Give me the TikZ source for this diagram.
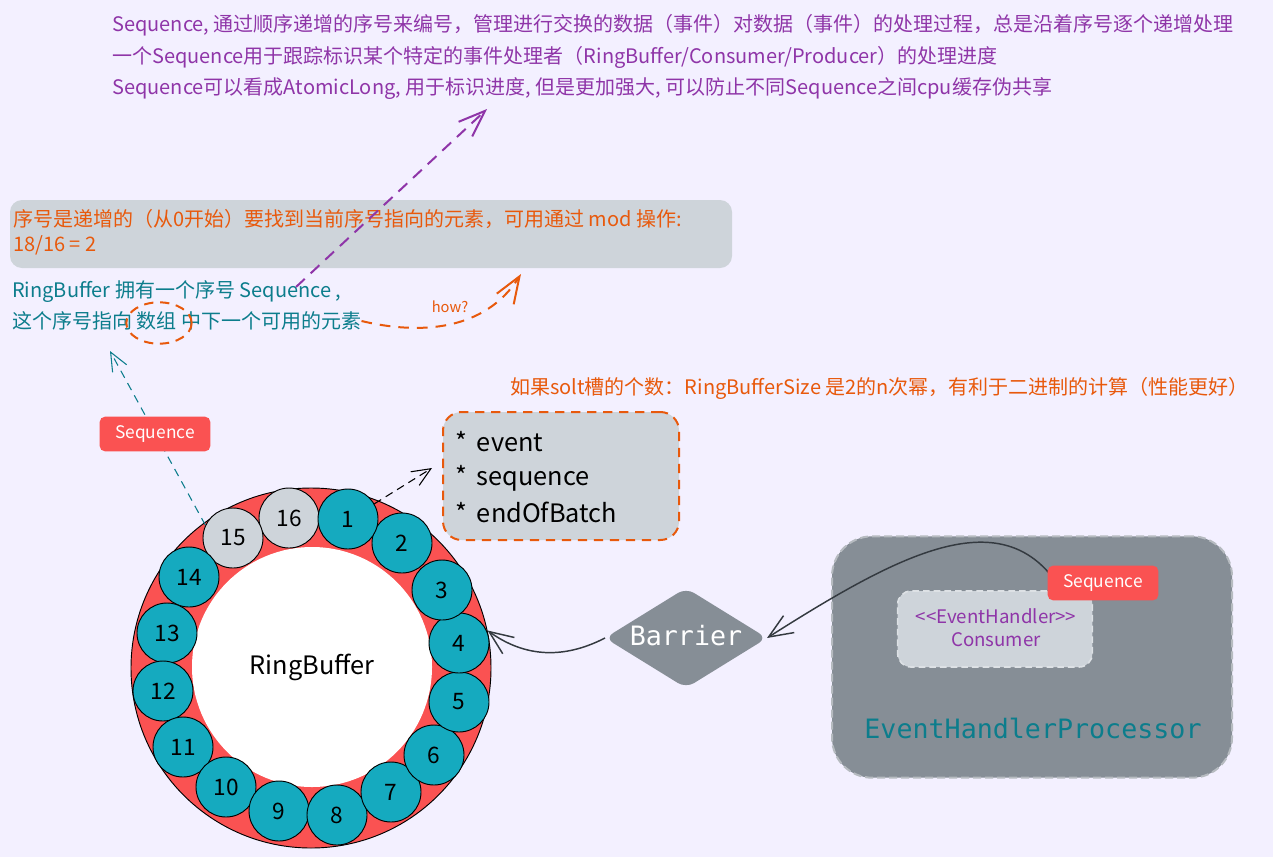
\documentclass[tikz,border=0pt]{standalone}
\usepackage{fontspec}
\setmainfont{Noto Sans CJK SC}[Ligatures=TeXOff]
\newfontfamily\monof{DejaVu Sans Mono}
\usetikzlibrary{arrows.meta,shapes.geometric}
\definecolor{bgc}{HTML}{F3F0FF}
\definecolor{vio}{HTML}{8F35A8}
\definecolor{org}{HTML}{E8590C}
\definecolor{tealc}{HTML}{0C7D8C}
\definecolor{lgray}{HTML}{CED4DA}
\definecolor{dgray}{HTML}{868E96}
\definecolor{sred}{HTML}{FA5252}
\definecolor{ccyan}{HTML}{15AABF}
\definecolor{ink}{HTML}{343A40}
\newcommand\myfs[1]{\fontsize{#1}{#1}\selectfont}
\begin{document}
\begin{tikzpicture}[x=0.75pt,y=-0.75pt,
  txt/.style={anchor=west,inner sep=0pt},
  slot/.style={circle,draw=black,line width=0.7pt,fill=ccyan,minimum size=45pt,inner sep=0pt,font=\myfs{17}},
  slotg/.style={slot,fill=lgray},
  seqlabel/.style={fill=sred,rounded corners=4pt,text=white,font=\myfs{13},minimum width=83pt,minimum height=26pt,inner sep=0pt},
  bigbarb/.style={-{Straight Barb[length=20pt,width=15pt]}},
  smallbarb/.style={-{Straight Barb[length=14pt,width=12pt]}},
  inkbarb/.style={-{Straight Barb[length=18pt,width=15pt]}}]
\useasboundingbox (0,0) rectangle (1273,857);
\fill[bgc] (0,0) rectangle (1273,857);

% top text
\node[txt,text=vio,font=\myfs{15}] (t1) at (112,25) {Sequence, 通过顺序递增的序号来编号，管理进行交换的数据（事件）对数据（事件）的处理过程，总是沿着序号逐个递增处理};
\node[txt,text=vio,font=\myfs{15}] (t2) at (112,57) {一个Sequence用于跟踪标识某个特定的事件处理者（RingBuffer/Consumer/Producer）的处理进度};
\node[txt,text=vio,font=\myfs{15}] (t3) at (112,89) {Sequence可以看成AtomicLong, 用于标识进度, 但是更加强大, 可以防止不同Sequence之间cpu缓存伪共享};

% gray explanation box
\node[fill=lgray,rounded corners=9pt,minimum width=541.5pt,minimum height=51pt,inner sep=0pt] (gbox) at (371,234) {};
\node[txt,text=org,font=\myfs{15}] (g1) at (13,219) {序号是递增的（从0开始）要找到当前序号指向的元素，可用通过 mod 操作:};
\node[txt,text=org,font=\myfs{15}] (g2) at (13,245) {18/16 = 2};

% ring buffer text
\node[txt,text=tealc,font=\myfs{15}] (r1) at (12,292) {RingBuffer 拥有一个序号 Sequence ,};
\node[txt,text=tealc,font=\myfs{15}] (r2) at (12,321) {这个序号指向 数组 中下一个可用的元素};
\node[ellipse,draw=org,line width=1.5pt,dash pattern=on 7pt off 5pt,minimum width=49pt,minimum height=31pt] (arr) at (159,323) {};

% purple arrow
\coordinate (ps) at (296,287);
\coordinate (pt) at (487,109);
\draw[vio,line width=1.5pt,dash pattern=on 9pt off 6pt,bigbarb] (ps) -- (pt);

% orange how arrow
\coordinate (ht) at (521,274);
\draw[org,line width=1.5pt,dash pattern=on 8pt off 6pt,bigbarb] (r2.east) .. controls (420,335) and (485,331) .. (ht);
\node[text=org,font=\myfs{11}] (how) at (450,307) {how?};

% top right note
\node[txt,text=org,font=\myfs{15}] (n1) at (510,388) {如果solt槽的个数：RingBufferSize 是2的n次幂，有利于二进制的计算（性能更好）};

% ring
\node[circle,draw=black,line width=0.7pt,fill=sred,minimum size=270pt,inner sep=0pt] (ring) at (311,668) {};
\node[circle,fill=white,minimum size=180pt,inner sep=0pt,font=\myfs{19}] (inner) at (312,667) {RingBuffer};
\node[slotg] (c16) at (289,518) {16};
\node[slotg] (c15) at (233,538) {15};
\node[slot] (c14) at (189,577) {14};
\node[slot] (c13) at (167,633) {13};
\node[slot] (c12) at (163,691) {12};
\node[slot] (c11) at (183,747) {11};
\node[slot] (c10) at (226,787) {10};
\node[slot] (c9) at (279,811) {9};
\node[slot] (c8) at (337,815) {8};
\node[slot] (c7) at (391,792) {7};
\node[slot] (c6) at (434,755) {6};
\node[slot] (c5) at (459,702) {5};
\node[slot] (c4) at (459,643) {4};
\node[slot] (c3) at (442,590) {3};
\node[slot] (c2) at (402,543) {2};
\node[slot] (c1) at (348,519) {1};

% teal sequence arrow
\coordinate (st) at (110,351);
\draw[tealc,line width=0.8pt,dash pattern=on 6pt off 4.5pt,smallbarb] (c15.155) -- (st);
\node[seqlabel] (sq1) at (155,434) {Sequence};

% event box
\node[fill=lgray,draw=org,line width=1.5pt,dash pattern=on 7pt off 5pt,rounded corners=14pt,minimum width=177pt,minimum height=96pt,inner sep=0pt] (ebox) at (561,476) {};
\node[txt,font=\myfs{19}] (e1) at (455,442) {*\ \,event};
\node[txt,font=\myfs{19}] (e2) at (455,478) {*\ \,sequence};
\node[txt,font=\myfs{19}] (e3) at (455,512) {*\ \,endOfBatch};
\coordinate (et) at (432,468);
\draw[black,line width=0.8pt,dash pattern=on 6pt off 4pt,smallbarb] (c1.30) -- (et);

% processor box
\node[fill=dgray,draw=dgray!60!white,line width=1.5pt,dash pattern=on 6pt off 3pt,rounded corners=30pt,minimum width=300pt,minimum height=181pt,inner sep=0pt] (ehp) at (1032,657) {};
\node[fill=lgray,draw=lgray!70!white,line width=1.2pt,dash pattern=on 5pt off 3pt,rounded corners=10pt,minimum width=146pt,minimum height=57pt,inner sep=0pt] (cons) at (995,629) {};
\node[text=vio,font=\myfs{14},align=center] (consl) at (996,628) {<<EventHandler>>\\[3pt]Consumer};
\node[text=tealc,font=\monof\myfs{20}] (ehpt) at (1033,728) {EventHandlerProcessor};

% barrier
\coordinate (barL) at (605,638);
\coordinate (barT) at (686,588);
\coordinate (barR) at (767,638);
\coordinate (barB) at (686,688);
\fill[dgray,rounded corners=7pt] (barL) -- (barT) -- (barR) -- (barB) -- cycle;
\node[text=white,font=\monof\myfs{20}] (bar) at (686,636) {Barrier};

% connectors
\draw[ink,line width=1.1pt,inkbarb] (barL) .. controls (570,656) and (530,661) .. (ring.12);
\draw[ink,line width=1.1pt,inkbarb] (1049,573) .. controls (990,505) and (890,560) .. (barR);
\node[seqlabel] (sq2) at (1103,583) {Sequence};
\end{tikzpicture}
\end{document}
